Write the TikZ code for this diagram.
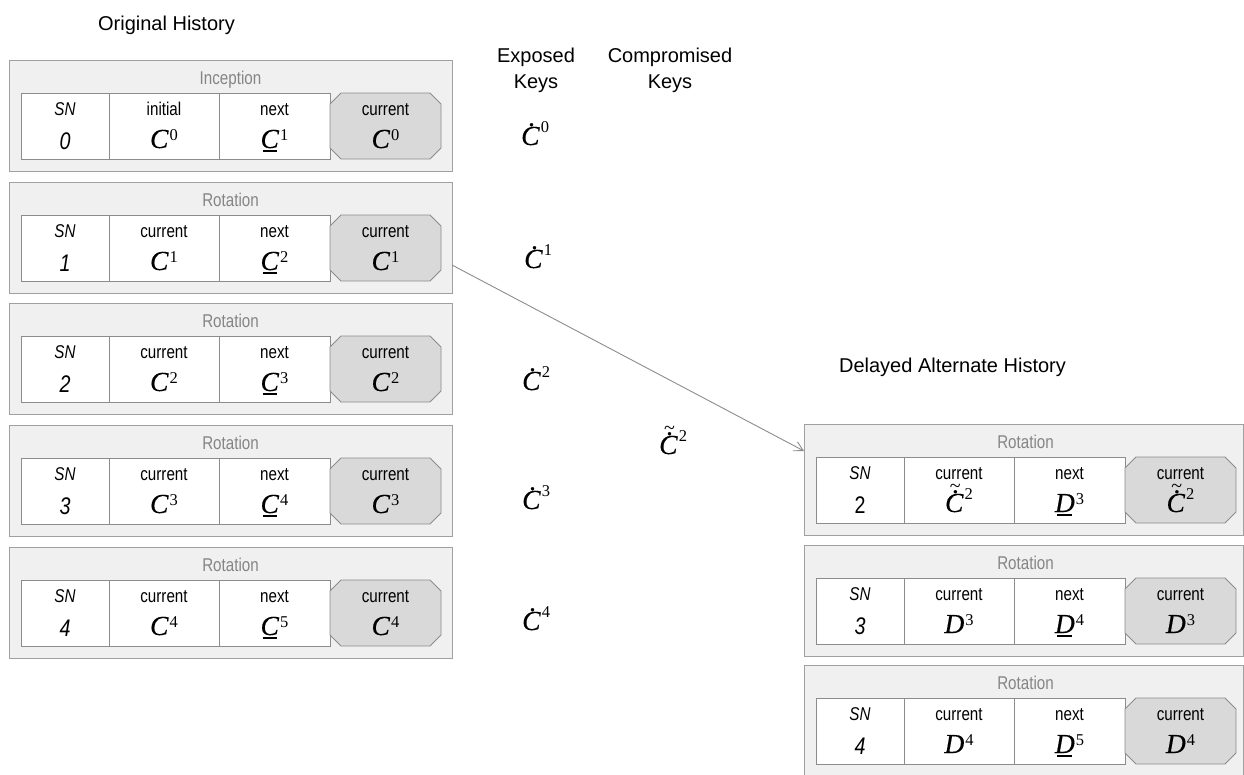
\documentclass[tikz,border=0pt]{standalone}
\usepackage{fontspec}
\setmainfont{Liberation Sans}
\newfontfamily\tms{Liberation Serif}
\newfontfamily\tmsb[FakeBold=0.35]{Liberation Serif}
\newfontfamily\narrow[FakeStretch=0.82]{Liberation Sans}
\usetikzlibrary{arrows.meta}

\definecolor{bord}{HTML}{8C8C8C}
\definecolor{outbord}{HTML}{A0A0A0}
\definecolor{outerfill}{HTML}{F0F0F0}
\definecolor{octfill}{HTML}{D9D9D9}
\definecolor{ttlgray}{HTML}{858585}

% math-like key symbols
\newcommand\Lt[1]{{\fontsize{27.5}{27.5}\selectfont\tmsb\itshape #1\/}}
\newcommand\Sp[2][7.5pt]{\kern1pt\raisebox{#1}{\fontsize{16.5}{16.5}\selectfont\tms #2}}
\newcommand\ulbox[1]{\setbox0=\hbox{#1}\rlap{\kern2pt\rule[-4pt]{\dimexpr\wd0-4.5pt\relax}{1.8pt}}\box0}
\newcommand\dotmark{\raisebox{19pt}{\fontsize{27.5}{27.5}\selectfont\tmsb\kern2pt.}}
\newcommand\tilmark{\raisebox{19.5pt}{\fontsize{20}{20}\selectfont\tms\kern2pt\char"7E}}
\newcommand\kplain[2]{\Lt{#1}\Sp{#2}}
\newcommand\kul[2]{\ulbox{\Lt{#1}}\Sp{#2}}
\newcommand\kdot[2]{\ooalign{\Lt{#1}\cr\hidewidth\dotmark\hidewidth\cr}\Sp[13pt]{#2}}
\newcommand\ktd[2]{\ooalign{\Lt{#1}\cr\hidewidth\dotmark\hidewidth\cr\hidewidth\tilmark\hidewidth\cr}\Sp[13pt]{#2}}

\tikzset{
 outerbox/.style={draw=outbord, fill=outerfill, line width=1pt, inner sep=0pt, outer sep=0pt, minimum height=111pt},
 cellbox/.style={draw=bord, fill=white, line width=0.9pt, inner sep=0pt, outer sep=0pt, minimum height=66pt},
 octslot/.style={inner sep=0pt, outer sep=0pt, minimum height=66pt, minimum width=111pt},
 octo/.style={draw=bord, fill=octfill, line width=0.9pt},
 ttl/.style={anchor=base, inner sep=0pt, text=ttlgray, font=\narrow\fontsize{18.5}{20}\selectfont},
 lbl/.style={anchor=base, inner sep=0pt, font=\narrow\fontsize{18.5}{20}\selectfont},
 num/.style={anchor=base, inner sep=0pt, font=\narrow\fontsize{24}{26}\selectfont},
 mth/.style={anchor=base, inner sep=0pt},
 mthw/.style={anchor=base west, inner sep=0pt},
 hdr/.style={anchor=base, inner sep=0pt, font=\fontsize{20}{24}\selectfont},
 arr/.style={draw=bord, line width=0.9pt, -{Straight Barb[length=9pt,width=10pt]}},
}

\newcommand\ow{443}
% #1 name, #2 X, #3 Y, #4 title, #5 SN value, #6 label2, #7 value2, #8 value3, #9 value4
\newcommand\blk[9]{%
 \node[outerbox, minimum width=\ow pt] (#1) at ({#2+\ow/2},{#3+55.5}) {};
 \node[cellbox, minimum width=88pt] (#1-sn) at ({#2+56},{#3+66}) {};
 \node[cellbox, minimum width=110pt] (#1-ka) at ({#2+155},{#3+66}) {};
 \node[cellbox, minimum width=111pt] (#1-kb) at ({#2+265.5},{#3+66}) {};
 \node[octslot] (#1-cur) at ({#2+376.5},{#3+66}) {};
 \draw[octo] ([xshift=11pt]#1-cur.north west) -- ([xshift=-11pt]#1-cur.north east)
   -- ([yshift=-11pt]#1-cur.north east) -- ([yshift=11pt]#1-cur.south east)
   -- ([xshift=-11pt]#1-cur.south east) -- ([xshift=11pt]#1-cur.south west)
   -- ([yshift=11pt]#1-cur.south west) -- ([yshift=-11pt]#1-cur.north west) -- cycle;
 \node[ttl] (#1-title) at ({#2+221.5},{#3+24}) {#4};
 \node[lbl] (#1-snl) at ({#2+56},{#3+55}) {\itshape SN};
 \node[num] (#1-snv) at ({#2+56},{#3+89}) {#5};
 \node[lbl] (#1-kal) at ({#2+155},{#3+55}) {#6};
 \node[mth] (#1-kav) at ({#2+155},{#3+88}) {#7};
 \node[lbl] (#1-kbl) at ({#2+265.5},{#3+55}) {next};
 \node[mth] (#1-kbv) at ({#2+265.5},{#3+88}) {#8};
 \node[lbl] (#1-curl) at ({#2+376.5},{#3+55}) {current};
 \node[mth] (#1-curv) at ({#2+376.5},{#3+88}) {#9};
}

\begin{document}
\begin{tikzpicture}[x=1pt,y=-1pt]
\useasboundingbox (0,0) rectangle (1244,774);
\clip (0,0) rectangle (1244,774);

% headers
\node[hdr] (hOrig) at (166.5,30) {Original History};
\node[hdr] (hExp1) at (536,62) {Exposed};
\node[hdr] (hExp2) at (536,88) {Keys};
\node[hdr] (hCom1) at (670,62) {Compromised};
\node[hdr] (hCom2) at (670,88) {Keys};
\node[hdr] (hAlt) at (952.5,372) {Delayed Alternate History};

% original history
\blk{b0}{9}{60}{Inception}{\itshape 0}{initial}{\kplain{C}{0}}{\kul{C}{1}}{\kplain{C}{0}}
\blk{b1}{9}{182}{Rotation}{\itshape 1}{current}{\kplain{C}{1}}{\kul{C}{2}}{\kplain{C}{1}}
\blk{b2}{9}{303}{Rotation}{\itshape 2}{current}{\kplain{C}{2}}{\kul{C}{3}}{\kplain{C}{2}}
\blk{b3}{9}{425}{Rotation}{\itshape 3}{current}{\kplain{C}{3}}{\kul{C}{4}}{\kplain{C}{3}}
\blk{b4}{9}{547}{Rotation}{\itshape 4}{current}{\kplain{C}{4}}{\kul{C}{5}}{\kplain{C}{4}}

% delayed alternate history
\renewcommand\ow{439}
\blk{r0}{804}{424}{Rotation}{2}{current}{\ktd{C}{2}}{\kul{D}{3}}{\ktd{C}{2}}
\blk{r1}{804}{545}{Rotation}{\itshape 3}{current}{\kplain{D}{3}}{\kul{D}{4}}{\kplain{D}{3}}
\blk{r2}{804}{665}{Rotation}{\itshape 4}{current}{\kplain{D}{4}}{\kul{D}{5}}{\kplain{D}{4}}

% exposed keys
\node[mthw] (e0) at (521,145) {\kdot{C}{0}};
\node[mthw] (e1) at (524,268) {\kdot{C}{1}};
\node[mthw] (e2) at (522,390) {\kdot{C}{2}};
\node[mthw] (e3) at (522,509) {\kdot{C}{3}};
\node[mthw] (e4) at (522,630) {\kdot{C}{4}};

% compromised key
\node[mthw] (ct) at (659,454) {\ktd{C}{2}};

% connector
\draw[arr] ([yshift=-27.5pt]b1.east) -- ([yshift=28.5pt]r0.west);
\end{tikzpicture}
\end{document}
